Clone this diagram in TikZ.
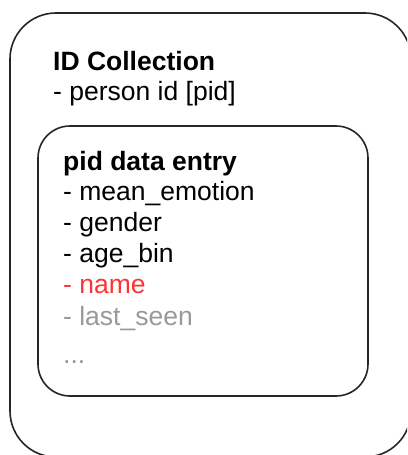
\documentclass[tikz,border=0pt]{standalone}
\usepackage{fontspec}
\setmainfont{Liberation Sans}
\definecolor{redtxt}{HTML}{FF3333}
\definecolor{graytxt}{HTML}{999999}
\begin{document}
\begin{tikzpicture}[x=1pt,y=-1pt,
  box/.style={draw=black!85,line width=1.6pt,rounded corners=#1,inner sep=0pt},
  txt/.style={anchor=base west,inner sep=0pt,font=\fontsize{26.5}{31}\selectfont}]
\useasboundingbox (0,0) rectangle (407,455);
\clip (0,0) rectangle (407,455);
\node[box=46pt,minimum width=401pt,minimum height=444pt] (outer) at (210.5,235) {};
\node[box=32pt,minimum width=330pt,minimum height=270pt] (inner) at (203,261) {};
\node[txt] (t1) at (53,70) {\bfseries ID Collection};
\node[txt] (t2) at (53,100) {- person id [pid]};
\node[txt] (i1) at (63,170) {\bfseries pid data entry};
\node[txt] (i2) at (63,200) {- mean\_emotion};
\node[txt] (i3) at (63,231) {- gender};
\node[txt] (i4) at (63,262) {- age\_bin};
\node[txt,text=redtxt] (i5) at (63,293) {- name};
\node[txt,text=graytxt] (i6) at (63,325) {- last\_seen};
\node[txt,text=graytxt] (i7) at (63,363) {...};
\end{tikzpicture}
\end{document}
